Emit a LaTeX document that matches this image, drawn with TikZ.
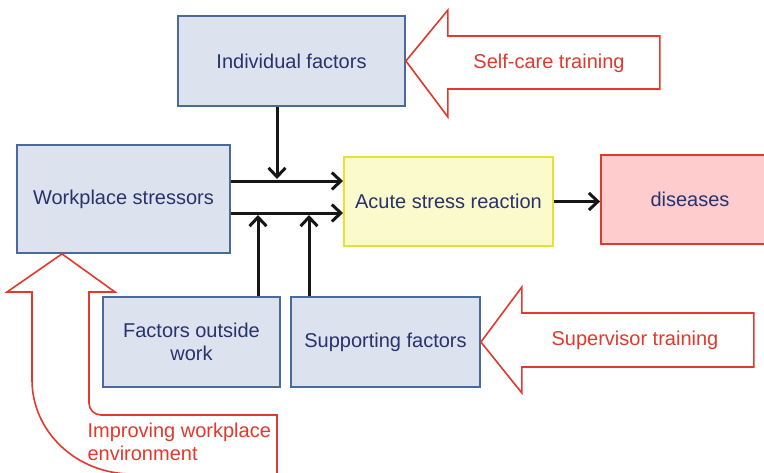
\documentclass[tikz,border=0pt]{standalone}
\usepackage{fontspec}
\setmainfont{Liberation Sans}
\usepackage{xcolor}
\usetikzlibrary{arrows.meta, positioning, calc}
\definecolor{boxblue}{HTML}{DCE3EE}
\definecolor{boxedge}{HTML}{4A6B9A}
\definecolor{boxtext}{HTML}{28326E}
\definecolor{acutefill}{HTML}{FAFACC}
\definecolor{acuteedge}{HTML}{E6E03A}
\definecolor{diseasefill}{HTML}{FFCCCD}
\definecolor{hintred}{HTML}{E2392C}
\definecolor{flowblack}{HTML}{161616}

\begin{document}
\begin{tikzpicture}[x=1pt,y=-1pt,font=\fontsize{20}{23.5}\selectfont,
    factor/.style={draw=boxedge,fill=boxblue,line width=1.8pt,text=boxtext,align=center,minimum height=90pt},
    flow/.style={line width=3pt,draw=flowblack,-{Straight Barb[length=9pt,width=17pt]}},
    hint/.style={draw=hintred,fill=white,line width=1.6pt,line join=miter},
    hinttext/.style={text=hintred,align=left}]
        \useasboundingbox (0,0) rectangle (764,472);
        \clip (0,0) rectangle (764,472);
        % boxes
        \node[factor,minimum width=227pt] (ind) at (291.5,61) {Individual factors};
        \node[factor,minimum width=213pt,minimum height=108pt] (work) at (123.5,199) {Workplace stressors};
        \node[factor,minimum width=209pt,minimum height=89pt,draw=acuteedge,fill=acutefill] (acute) at (448.5,201.5) {Acute stress reaction};
        \node[factor,minimum width=178pt,minimum height=89pt,draw=hintred,fill=diseasefill] (dis) at (690,199.5) {diseases};
        \node[factor,minimum width=177pt] (outside) at (191.5,342) {Factors outside\\work};
        \node[factor,minimum width=189pt] (support) at (385.5,342) {Supporting factors};
        % the two main lines and where the side arrows meet them
        \coordinate (upperin) at (343,181);
        \coordinate (lowerin) at (343,213);
        \coordinate (indtip) at (277,179);
        \coordinate (outtip) at (258,215);
        \coordinate (suptip) at (309,215);
        \draw[flow] (work.east |- upperin) -- (upperin);
        \draw[flow] (work.east |- lowerin) -- (lowerin);
        \draw[flow] (ind.south -| indtip) -- (indtip);
        \draw[flow] (outside.north -| outtip) -- (outtip);
        \draw[flow] (support.north -| suptip) -- (suptip);
        \draw[flow] (acute.east) -- (acute.east -| dis.west);
        % intervention arrows
        \draw[hint] (ind.east) -- ++(42,-51) -- ++(0,26) -- ++(212,0) -- ++(0,53) -- ++(-212,0) -- ++(0,28) -- cycle;
        \draw[hint] (support.east) -- ++(41,-55) -- ++(0,26) -- ++(232,0) -- ++(0,54) -- ++(-232,0) -- ++(0,26) -- cycle;
        \draw[hint] (work.south -| 62,0) -- (115,292) -- (89,292) -- (89,403) arc[start angle=180,end angle=90,radius=12]
            -- (277,415) -- (277,490) -- (132,490) -- (132,474)
            arc[start angle=90,end angle=180,x radius=100,y radius=94] -- (32,292) -- (7,292) -- cycle;
        \node[hinttext] (selfcare) at (549,63) {Self-care training};
        \node[hinttext] (supervisor) at (635,340) {Supervisor training};
        \node[hinttext,anchor=west] (improve) at (84,442) {Improving workplace\\environment};
\end{tikzpicture}
\end{document}
